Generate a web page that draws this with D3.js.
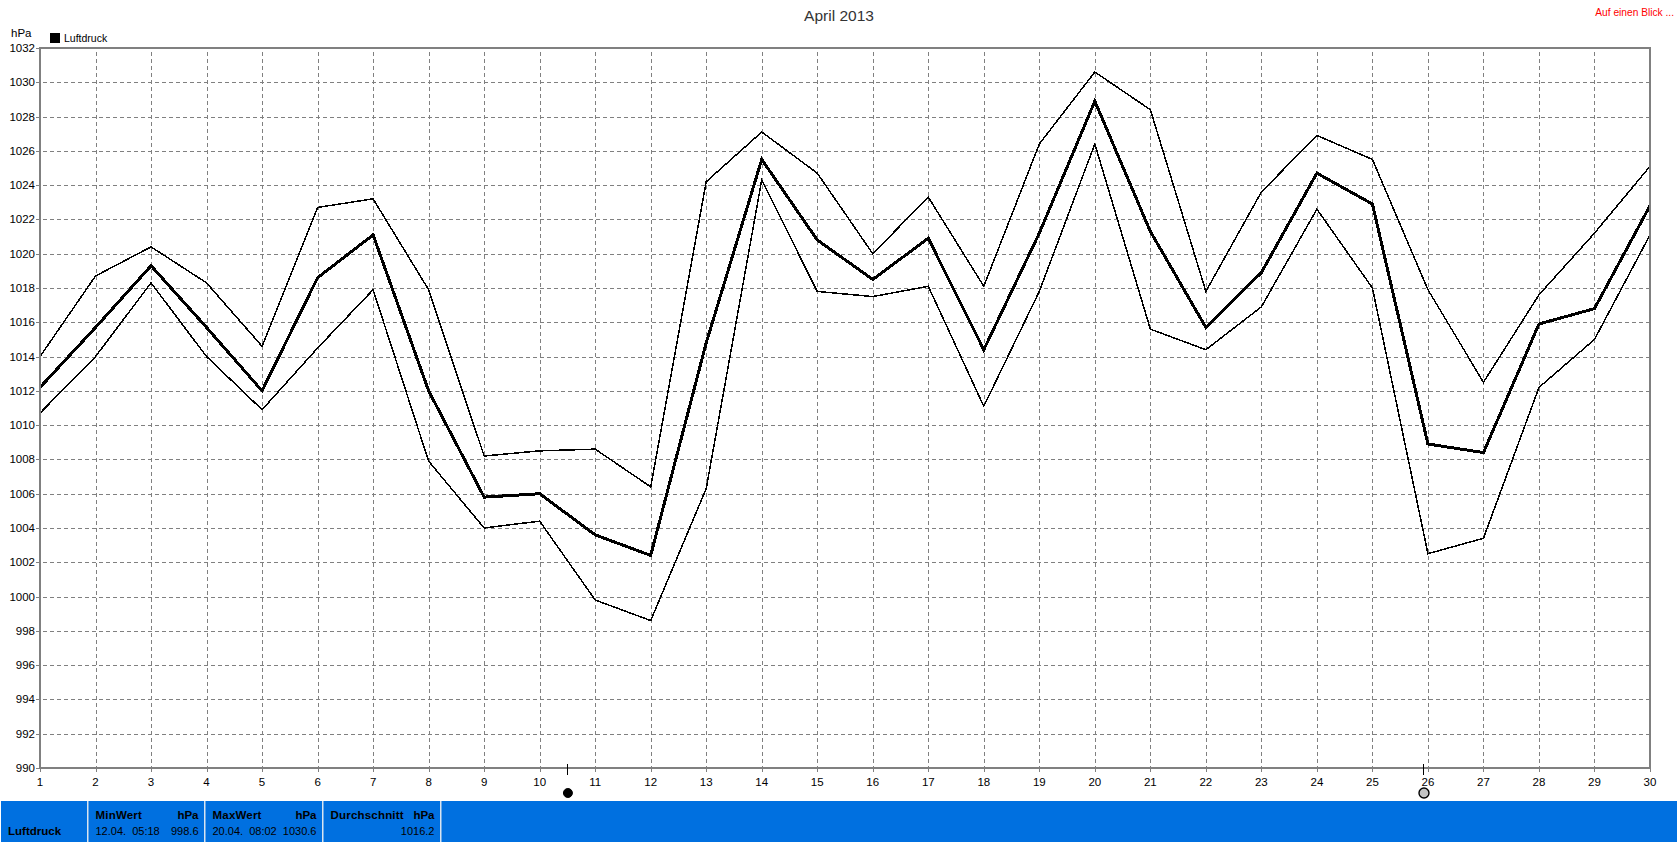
<!DOCTYPE html>
<html><head><meta charset="utf-8">
<style>html,body{margin:0;padding:0;background:#fff;overflow:hidden}svg{display:block}text{font-family:"Liberation Sans",Arial,sans-serif;fill:#000}</style>
<script src="https://cdn.jsdelivr.net/npm/d3@7/dist/d3.min.js"></script>
</head><body><script>
const days = d3.range(1, 31);
const maxValues = [1014,1018.7,1020.4,1018.3,1014.6,1022.7,1023.2,1017.9,1008.2,1008.5,1008.6,1006.4,1024.2,1027.1,1024.7,1020,1023.3,1018.1,1026.4,1030.6,1028.4,1017.8,1023.6,1026.9,1025.5,1017.9,1012.5,1017.6,1021.2,1025.1];
const avgValues = [1012.2,1015.7,1019.3,1015.7,1012,1018.6,1021.1,1012,1005.8,1006,1003.6,1002.4,1014.8,1025.5,1020.8,1018.5,1020.9,1014.4,1021.2,1028.9,1021.3,1015.7,1018.9,1024.7,1022.9,1008.9,1008.4,1015.9,1016.8,1022.8];
const minValues = [1010.7,1014,1018.3,1014,1010.9,1014.5,1017.9,1007.9,1004,1004.4,999.8,998.6,1006.3,1024.3,1017.8,1017.5,1018.1,1011.1,1017.8,1026.4,1015.6,1014.4,1016.9,1022.6,1018,1002.5,1003.4,1012.2,1015,1021.1];
const yTicks = d3.range(990, 1033, 2);
const moonDays = [10.5, 25.92];
const moonKinds = ["new", "full"];
const title = "April 2013", unit = "hPa", seriesName = "Luftdruck", linkText = "Auf einen Blick ...";
const statHeads = ["MinWert", "MaxWert", "Durchschnitt"];
const statDates = ["12.04.  05:18", "20.04.  08:02", ""];
const statVals = ["998.6", "1030.6", "1016.2"];

const W = 1677, H = 842, L = 40, R = 1650, T = 48, B = 768;
const svg = d3.select("body").append("svg").attr("width", W).attr("height", H);
const x = d3.scaleLinear().domain([1, 30]).range([L, R]);
const y = d3.scaleLinear().domain([990, 1032]).range([B, T]);
const px = v => Math.round(v) + 0.5;
const grey = "#808080";

const grid = svg.append("g").attr("shape-rendering", "crispEdges").attr("stroke", grey).attr("stroke-dasharray", "4 3");
grid.selectAll(".h").data(yTicks.slice(1, -1)).join("line").attr("x1", L + 3).attr("x2", R).attr("y1", d => px(y(d))).attr("y2", d => px(y(d)));
grid.selectAll(".v").data(days.slice(1, -1)).join("line").attr("y1", T + 4).attr("y2", B).attr("x1", d => px(x(d))).attr("x2", d => px(x(d)));

const line = d3.line().x((d, i) => x(days[i])).y(d => y(d));
const series = [[maxValues, 1.5], [minValues, 1.5], [avgValues, 3]];
svg.selectAll(".s").data(series).join("path").attr("fill", "none").attr("stroke", "#000").attr("shape-rendering", "crispEdges")
  .attr("stroke-width", d => d[1]).attr("d", d => line(d[0]));

const frame = svg.append("g").attr("shape-rendering", "crispEdges").attr("stroke", grey);
frame.append("rect").attr("x", L).attr("y", T).attr("width", R - L).attr("height", B - T).attr("fill", "none").attr("stroke-width", 2);
frame.selectAll(".yt").data(yTicks).join("line").attr("x1", L - 4).attr("x2", L).attr("y1", d => px(y(d))).attr("y2", d => px(y(d)));
frame.selectAll(".xt").data(days).join("line").attr("x1", d => px(x(d))).attr("x2", d => px(x(d))).attr("y1", B).attr("y2", B + 4);

const fs = 11.5;
svg.selectAll(".yl").data(yTicks).join("text").attr("x", L - 5).attr("y", d => y(d) + 4).attr("text-anchor", "end").attr("font-size", fs).text(d => d);
svg.selectAll(".xl").data(days).join("text").attr("x", d => x(d)).attr("y", 786).attr("text-anchor", "middle").attr("font-size", fs).text(d => d);
svg.append("text").attr("x", 11).attr("y", 37).attr("font-size", fs).text(unit);
svg.append("rect").attr("x", 50).attr("y", 33).attr("width", 10).attr("height", 10).attr("fill", "#000");
svg.append("text").attr("x", 64).attr("y", 42).attr("font-size", 10.5).text(seriesName);
svg.append("text").attr("x", 839).attr("y", 21).attr("text-anchor", "middle").attr("font-size", 15.5).style("fill", "#333").text(title);
svg.append("text").attr("x", 1674).attr("y", 16).attr("text-anchor", "end").attr("font-size", 10.2).style("fill", "#f00").text(linkText);

svg.selectAll(".mt").data(moonDays).join("line").attr("shape-rendering", "crispEdges").attr("stroke", "#000")
  .attr("x1", d => px(x(d))).attr("x2", d => px(x(d))).attr("y1", 764).attr("y2", 775);
svg.selectAll(".mc").data(moonDays).join("circle").attr("cx", d => x(d) + .5).attr("cy", 793).attr("r", (d, i) => moonKinds[i] === "new" ? 4.5 : 5)
  .attr("fill", (d, i) => moonKinds[i] === "new" ? "#000" : "#c4c4c4").attr("stroke", "#000").attr("stroke-width", (d, i) => moonKinds[i] === "new" ? 1 : 1.4);

svg.append("rect").attr("x", 1).attr("y", 801).attr("width", W - 1).attr("height", 41).attr("fill", "#0070E0");
const seps = [88, 205, 323, 441];
svg.selectAll(".sep").data(seps).join("rect").attr("x", d => d - 1).attr("y", 801).attr("width", 1.5).attr("height", 41).attr("fill", "#d8e4f0");
svg.append("text").attr("x", 8).attr("y", 835).attr("font-size", 11.5).attr("font-weight", 700).text(seriesName);
seps.slice(0, 3).forEach((s, i) => {
  const r = seps[i + 1] - 6.5;
  svg.append("text").attr("x", s + 7.5).attr("y", 819).attr("font-size", 11.5).attr("letter-spacing", .2).attr("font-weight", 700).text(statHeads[i]);
  svg.append("text").attr("x", r).attr("y", 819).attr("font-size", 11.5).attr("font-weight", 700).attr("text-anchor", "end").text(unit);
  svg.append("text").attr("x", s + 7.5).attr("y", 835).attr("font-size", 11).style("white-space", "pre").text(statDates[i]);
  svg.append("text").attr("x", r).attr("y", 835).attr("font-size", 11).attr("text-anchor", "end").text(statVals[i]);
});
</script></body></html>
